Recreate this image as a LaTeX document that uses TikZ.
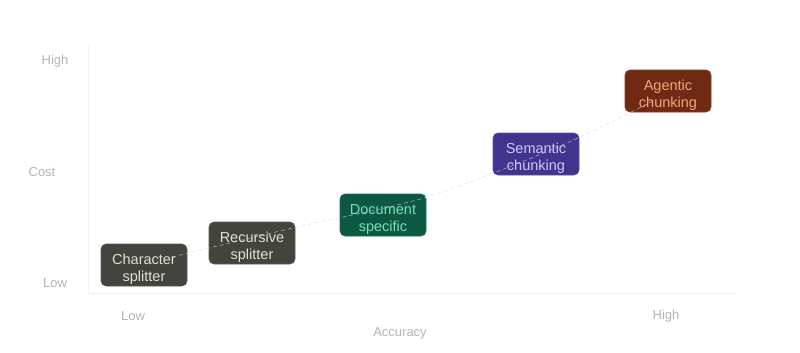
\documentclass[tikz,border=0pt]{standalone}
\usepackage{fontspec}
\setmainfont{Liberation Sans}
\begin{document}
\begin{tikzpicture}[x=1pt,y=-1pt,
  axislabel/.style={text=axisgray,font=\fontsize{13}{15}\selectfont,inner sep=0pt},
  axisline/.style={draw=axisline,line width=0.8pt},
  chunkbox/.style={rounded corners=5pt,minimum width=86pt,minimum height=42pt,
    inner sep=0pt,line width=0.6pt},
  boxtext/.style={align=center,inner sep=0pt,yshift=-4.5pt,
    font=\fontsize{14.5}{17}\selectfont},
  graybox/.style={chunkbox,fill=boxgray,draw=boxgrayedge},
  greenbox/.style={chunkbox,fill=boxgreen,draw=boxgreenedge},
  purplebox/.style={chunkbox,fill=boxpurple,draw=boxpurpleedge},
  brownbox/.style={chunkbox,fill=boxbrown,draw=boxbrownedge},
  trend/.style={draw=trendgray,dashed,dash pattern=on 4pt off 3pt,line width=0.6pt,opacity=0.7}
]
\definecolor{axisgray}{HTML}{B6B4AC}
\definecolor{axisline}{HTML}{F0F0EE}
\definecolor{boxgray}{HTML}{44443F}
\definecolor{boxgrayedge}{HTML}{5A5A55}
\definecolor{textgray}{HTML}{E2DFD6}
\definecolor{boxgreen}{HTML}{0C5842}
\definecolor{boxgreenedge}{HTML}{1A7457}
\definecolor{textgreen}{HTML}{78E0B4}
\definecolor{boxpurple}{HTML}{41348F}
\definecolor{boxpurpleedge}{HTML}{5A4CB0}
\definecolor{textpurple}{HTML}{CFC8F6}
\definecolor{boxbrown}{HTML}{6E2A12}
\definecolor{boxbrownedge}{HTML}{8A3A1C}
\definecolor{textbrown}{HTML}{F5A57C}
\definecolor{trendgray}{HTML}{D8D8D4}

\useasboundingbox (0,0) rectangle (800,353);

% axes
\coordinate (orig) at (88,293);
\coordinate (ytop) at (88,45);
\coordinate (xend) at (735,293);
\draw[axisline] (ytop) -- (orig) -- (xend);

% axis labels
\node[axislabel] (yhigh) at (55,61) {High};
\node[axislabel] (ycost) at (42,172) {Cost};
\node[axislabel] (ylow) at (55,283) {Low};
\node[axislabel] (xlow) at (133,316) {Low};
\node[axislabel] (xhigh) at (666,316) {High};
\node[axislabel] (xacc) at (400,333) {Accuracy};

% boxes
\node[graybox,label={[boxtext,text=textgray]center:Character\\splitter}] (char) at (144,265) {};
\node[graybox,label={[boxtext,text=textgray]center:Recursive\\splitter}] (rec) at (252,243) {};
\node[greenbox,label={[boxtext,text=textgreen]center:Document\\specific}] (doc) at (383,215) {};
\node[purplebox,label={[boxtext,text=textpurple]center:Semantic\\chunking}] (sem) at (536,154) {};
\node[brownbox,label={[boxtext,text=textbrown]center:Agentic\\chunking}] (agent) at (668,91) {};

% trend curve
\coordinate (t1) at (172,257);
\coordinate (t2) at (297,227);
\coordinate (t3) at (427,197);
\coordinate (t4) at (560,146);
\coordinate (t5) at (655,100);
\draw[trend] plot[smooth,tension=0.5] coordinates {(t1) (t2) (t3) (t4) (t5)};
\end{tikzpicture}
\end{document}
